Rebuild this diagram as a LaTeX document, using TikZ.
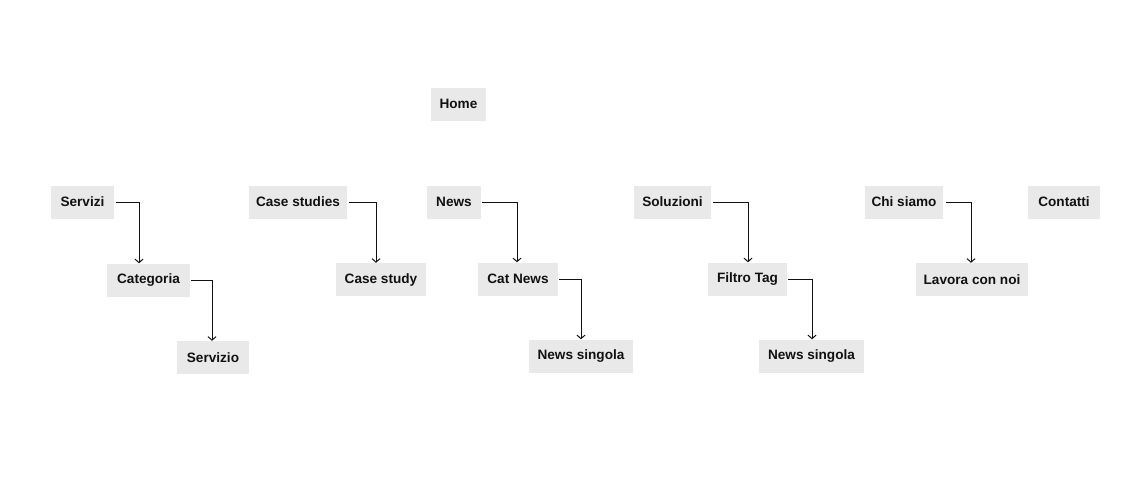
\documentclass[tikz,border=0pt]{standalone}
\usepackage{fontspec}
\setmainfont{Liberation Sans}
\usetikzlibrary{arrows.meta}
\definecolor{boxgray}{HTML}{E9E9E9}
\definecolor{ink}{HTML}{111111}
\begin{document}
\begin{tikzpicture}[x=1pt,y=-1pt,
  page/.style={fill=boxgray, text=ink, font=\fontsize{13.6}{15}\selectfont\bfseries,
    minimum height=33pt, inner sep=0pt},
  link/.style={draw=ink, line width=1pt, -{Straight Barb[length=3.5pt,width=8pt]}}]
\useasboundingbox (0,0) rectangle (1136,488);
% top
\node[page, minimum width=55pt] (home) at (458.5,104) {Home};
% servizi
\node[page, minimum width=63pt] (servizi) at (82.5,202) {Servizi};
\node[page, minimum width=83pt] (categoria) at (148.5,280) {Categoria};
\node[page, minimum width=72pt] (servizio) at (213,357.5) {Servizio};
% case studies
\node[page, minimum width=98pt] (casestudies) at (298,202) {Case studies};
\node[page, minimum width=90pt] (casestudy) at (381,279.5) {Case study};
% news
\node[page, minimum width=54pt] (news) at (454,202) {News};
\node[page, minimum width=80pt] (catnews) at (518,279) {Cat News};
\node[page, minimum width=104pt] (newssingola) at (581,356) {News singola};
% soluzioni
\node[page, minimum width=77pt] (soluzioni) at (672.5,202) {Soluzioni};
\node[page, minimum width=79pt] (filtrotag) at (747.5,279) {Filtro Tag};
\node[page, minimum width=105pt] (tagsingola) at (811.5,356) {News singola};
% chi siamo
\node[page, minimum width=78pt] (chisiamo) at (904,202) {Chi siamo};
\node[page, minimum width=112pt] (lavora) at (972,279.5) {Lavora con noi};
\node[page, minimum width=72pt] (contatti) at (1064,202) {Contatti};

\draw[link] ([xshift=2pt]servizi.east) -| ([xshift=-9.5pt]categoria.north);
\draw[link] ([xshift=1pt]categoria.east) -| ([xshift=-1pt]servizio.north);
\draw[link] ([xshift=2pt]casestudies.east) -| ([xshift=-5pt]casestudy.north);
\draw[link] ([xshift=1pt]news.east) -| ([xshift=-1pt]catnews.north);
\draw[link] ([xshift=1pt]catnews.east) -| (newssingola.north);
\draw[link] ([xshift=2pt]soluzioni.east) -| ([xshift=0.5pt]filtrotag.north);
\draw[link] ([xshift=1pt]filtrotag.east) -| ([xshift=0.5pt]tagsingola.north);
\draw[link] ([xshift=3pt]chisiamo.east) -| ([xshift=-1pt]lavora.north);
\end{tikzpicture}
\end{document}
